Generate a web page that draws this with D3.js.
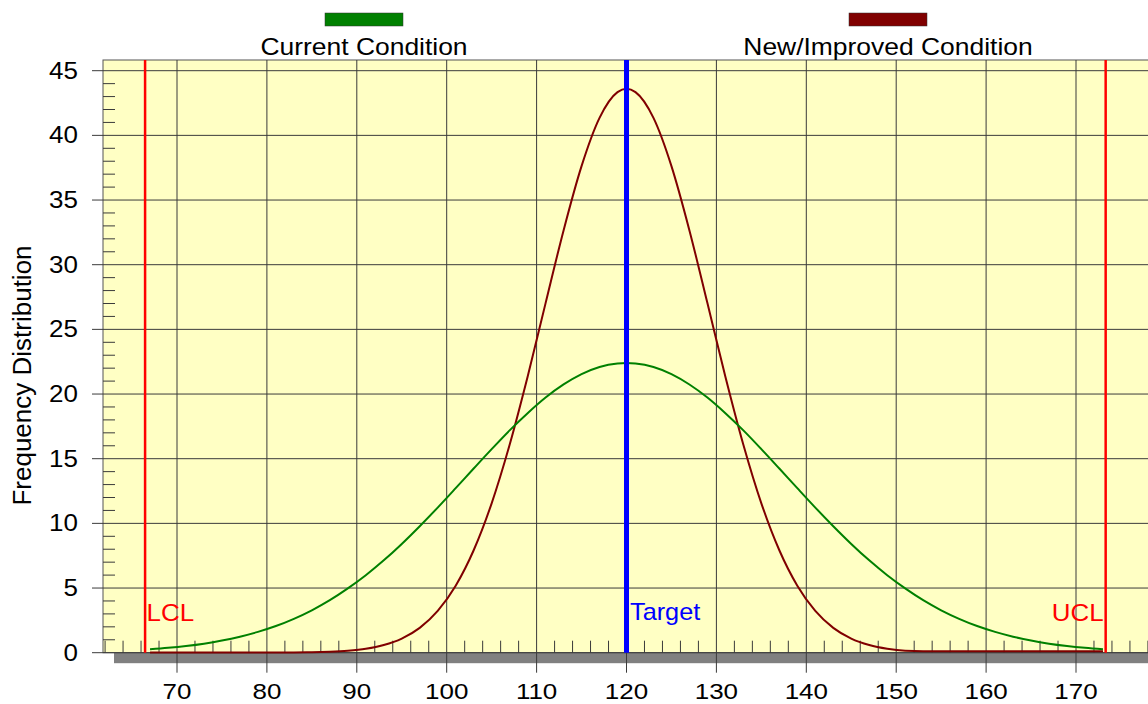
<!DOCTYPE html>
<html lang="en">
<head>
<meta charset="UTF-8">
<title>Frequency Distribution</title>
<script src="https://d3js.org/d3.v7.min.js"></script>
<style>
    body { margin: 0; background: #fff; }
    text { font-family: "Liberation Sans", Arial, sans-serif; }
</style>
</head>
<body>
<svg width="1148" height="704"></svg>
<script>
    // values
    const xs = [67,69,71,73,75,77,79,81,83,85,87,89,91,93,95,97,99,101,103,105,107,109,111,113,115,117,119,120,
                121,123,125,127,129,131,133,135,137,139,141,143,145,147,149,151,153,155,157,159,161,163,165,167,169,171,173];
    const currentVals = [0.27,0.38,0.52,0.70,0.94,1.24,1.61,2.06,2.62,3.28,4.06,4.97,5.99,7.14,8.41,9.78,11.22,12.72,14.24,15.74,17.19,18.52,19.73,20.74,21.54,22.09,22.36,22.4,
                22.36,22.09,21.54,20.74,19.73,18.52,17.19,15.74,14.24,12.72,11.22,9.78,8.41,7.14,5.99,4.97,4.06,3.28,2.62,2.06,1.61,1.24,0.94,0.70,0.52,0.38,0.27];
    const newVals = [0.02,0.02,0.02,0.02,0.02,0.02,0.02,0.02,0.02,0.03,0.07,0.15,0.30,0.59,1.09,1.92,3.23,5.18,7.92,11.55,16.08,21.34,27.03,32.65,37.62,41.35,43.34,43.6,
                43.34,41.35,37.62,32.65,27.03,21.34,16.08,11.55,7.92,5.18,3.23,1.92,1.09,0.59,0.30,0.15,0.12,0.12,0.12,0.12,0.12,0.12,0.12,0.12,0.12,0.12,0.12];
    const xTicks = [70,80,90,100,110,120,130,140,150,160,170];
    const yTicks = [0,5,10,15,20,25,30,35,40,45];
    const lcl = 66.45, ucl = 173.3, target = 120;
    const seriesNames = ["Current Condition", "New/Improved Condition"];
    const seriesColors = ["#008000", "#800000"];

    const svg = d3.select("svg");
    const pLeft = 103, pTop = 60, pBottom = 652.7, pRight = 1160;

    const x = d3.scaleLinear().domain([70,170]).range([177,1076]);
    const y = d3.scaleLinear().domain([0,45]).range([pBottom, 70.7]);

    // text that is a bit wider than the font, like the original
    function label(g, tx, ty, str, size, sx, anchor, color) {
        return g.append("text")
            .attr("transform", `translate(${tx},${ty}) scale(${sx},1)`)
            .attr("text-anchor", anchor)
            .attr("font-size", size + "px")
            .attr("fill", color || "#000")
            .text(str);
    }

    // shadow under plot
    svg.append("rect")
        .attr("x", pLeft + 11).attr("y", pBottom)
        .attr("width", pRight - pLeft).attr("height", 10.5)
        .attr("fill", "#808080");

    // plot background
    svg.append("rect")
        .attr("x", pLeft).attr("y", pTop)
        .attr("width", pRight - pLeft).attr("height", pBottom - pTop)
        .attr("fill", "#ffffc4")
        .attr("stroke", "#555").attr("stroke-width", 1);

    // grid
    svg.append("g").selectAll("line").data(xTicks).enter().append("line")
        .attr("x1", d => x(d)).attr("x2", d => x(d))
        .attr("y1", pTop).attr("y2", pBottom + 20)
        .attr("stroke", "#3a3a3a").attr("stroke-width", 1);
    svg.append("g").selectAll("line").data(yTicks).enter().append("line")
        .attr("x1", pLeft - 11).attr("x2", pRight)
        .attr("y1", d => y(d)).attr("y2", d => y(d))
        .attr("stroke", "#3a3a3a").attr("stroke-width", 1);

    // minor ticks
    let yMinor = d3.range(1, 46).filter(v => v % 5 != 0);
    svg.append("g").selectAll("line").data(yMinor).enter().append("line")
        .attr("x1", pLeft).attr("x2", pLeft + 12)
        .attr("y1", d => y(d)).attr("y2", d => y(d))
        .attr("stroke", "#3a3a3a").attr("stroke-width", 1);
    let xMinor = d3.range(62, 180, 2).filter(v => v % 10 != 0);
    svg.append("g").selectAll("line").data(xMinor).enter().append("line")
        .attr("x1", d => x(d)).attr("x2", d => x(d))
        .attr("y1", pBottom).attr("y2", pBottom - 12)
        .attr("stroke", "#3a3a3a").attr("stroke-width", 1);

    // tick labels
    const yLab = svg.append("g");
    yTicks.forEach(d => label(yLab, 78, y(d) + 8, d, 23, 1.13, "end"));
    const xLab = svg.append("g");
    xTicks.forEach(d => label(xLab, x(d), 698.5, d, 22, 1.18, "middle"));

    svg.append("text")
        .attr("transform", "translate(31,375.5) rotate(-90)")
        .attr("text-anchor", "middle")
        .attr("font-size", "26px")
        .text("Frequency Distribution");

    // curves
    const line = d3.line()
        .x((d, i) => x(xs[i]))
        .y(d => y(d))
        .curve(d3.curveMonotoneX);

    svg.append("path").datum(newVals)
        .attr("d", line)
        .attr("fill", "none")
        .attr("stroke", seriesColors[1]).attr("stroke-width", 2);
    svg.append("path").datum(currentVals)
        .attr("d", line)
        .attr("fill", "none")
        .attr("stroke", seriesColors[0]).attr("stroke-width", 2);

    // limit lines
    [lcl, ucl].forEach(v => {
        svg.append("line")
            .attr("x1", x(v)).attr("x2", x(v))
            .attr("y1", pTop).attr("y2", pBottom)
            .attr("stroke", "#ff0000").attr("stroke-width", 2.5);
    });
    svg.append("line")
        .attr("x1", x(target)).attr("x2", x(target))
        .attr("y1", pTop).attr("y2", pBottom)
        .attr("stroke", "#0000ff").attr("stroke-width", 5);

    label(svg, x(lcl) + 1.5, 620.5, "LCL", 24, 1.08, "start", "#ff0000");
    label(svg, x(ucl) - 2, 620.5, "UCL", 24, 1.08, "end", "#ff0000");
    label(svg, x(target) + 3.5, 620, "Target", 23, 1.1, "start", "#0000ff");

    // legend
    const legendX = [364, 888];
    seriesNames.forEach((name, i) => {
        svg.append("rect")
            .attr("x", legendX[i] - 39).attr("y", 13)
            .attr("width", 78).attr("height", 13)
            .attr("fill", seriesColors[i])
            .attr("stroke", "#333").attr("stroke-width", 0.5);
        label(svg, legendX[i], 55, name, 23, 1.15, "middle");
    });
</script>
</body>
</html>
